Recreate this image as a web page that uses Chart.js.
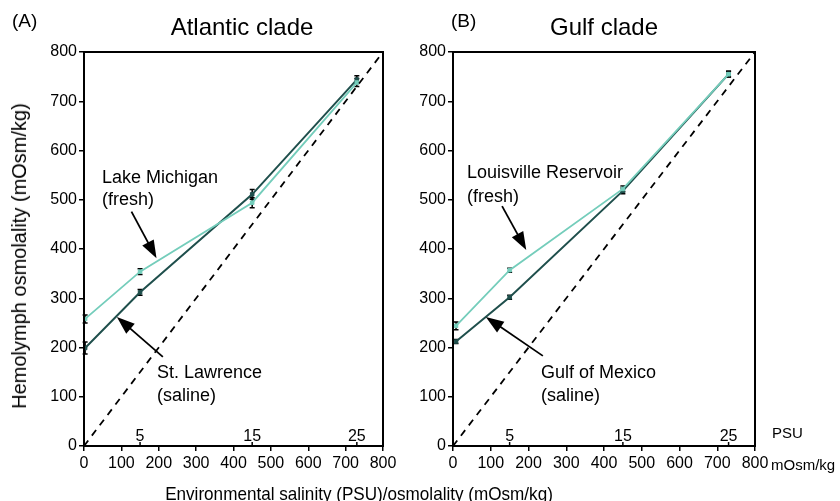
<!doctype html>
<html lang="en">
<head>
    <meta charset="UTF-8">
    <title>Hemolymph osmolality</title>
    <style>
        html, body {
            margin: 0;
            padding: 0;
            background: #fff;
        }
        body {
            width: 840px;
            height: 501px;
            position: relative;
            overflow: hidden;
            font-family: 'Liberation Sans', Arial, sans-serif;
            color: #000;
        }
        .lbl {
            position: absolute;
            white-space: nowrap;
            line-height: 1;
        }
        #chartA { position: absolute; left: 0; top: 0; }
        #chartB { position: absolute; left: 405px; top: 0; }
    </style>
</head>
<body>
    <canvas id="chartA" width="420" height="501"></canvas>
    <canvas id="chartB" width="435" height="501"></canvas>

    <div class="lbl" style="left:12px;top:11px;font-size:19px">(A)</div>
    <div class="lbl" style="left:242px;top:15px;font-size:24px;transform:translateX(-50%)">Atlantic clade</div>
    <div class="lbl" style="left:451px;top:11px;font-size:19px">(B)</div>
    <div class="lbl" style="left:604px;top:15px;font-size:24px;transform:translateX(-50%)">Gulf clade</div>
    <div class="lbl" style="left:19px;top:256px;font-size:20px;transform:translate(-50%,-50%) rotate(-90deg)">Hemolymph osmolality (mOsm/kg)</div>
    <div class="lbl" style="left:359px;top:484px;font-size:19px;transform:translateX(-50%) scaleX(0.9)">Environmental salinity (PSU)/osmolality (mOsm/kg)</div>
    <div class="lbl" style="left:772px;top:425px;font-size:15px">PSU</div>
    <div class="lbl" style="left:771px;top:457px;font-size:15px">mOsm/kg</div>

    <script src="https://cdn.jsdelivr.net/npm/chart.js@4.4.1/dist/chart.umd.min.js"></script>
    <script>
        // values (mOsm/kg)
        var atlanticSalinity = [3, 150, 450, 730];
        var atlanticFresh = [258, 354, 494, 738];
        var atlanticFreshErr = [8, 6, 10, 8];
        var atlanticSaline = [199, 312, 511, 744];
        var atlanticSalineErr = [12, 6, 10, 8];

        var gulfSalinity = [8, 150, 450, 730];
        var gulfFresh = [244, 357, 522, 755];
        var gulfFreshErr = [8, 4, 6, 6];
        var gulfSaline = [212, 302, 518, 755];
        var gulfSalineErr = [4, 4, 6, 6];

        var psuLabels = ['5', '15', '25'];
        var psuAt = [150, 450, 730];

        var light = '#74cdbb';
        var dark = '#1f4f4c';

        Chart.defaults.font.family = "'Liberation Sans', Arial, sans-serif";
        Chart.defaults.color = '#000';

        function arrow(ctx, x1, y1, x2, y2) {
            var a = Math.atan2(y2 - y1, x2 - x1);
            var len = 18, half = 6.5;
            ctx.beginPath();
            ctx.moveTo(x1, y1);
            ctx.lineTo(x2 - Math.cos(a) * len * 0.8, y2 - Math.sin(a) * len * 0.8);
            ctx.stroke();
            ctx.beginPath();
            ctx.moveTo(x2, y2);
            ctx.lineTo(x2 - Math.cos(a) * len - Math.sin(a) * half, y2 - Math.sin(a) * len + Math.cos(a) * half);
            ctx.lineTo(x2 - Math.cos(a) * len + Math.sin(a) * half, y2 - Math.sin(a) * len - Math.cos(a) * half);
            ctx.closePath();
            ctx.fill();
        }

        var extras = {
            id: 'extras',
            beforeDatasetsDraw: function (chart) {
                // error bars go under the markers
                var ctx = chart.ctx, xs = chart.scales.x, ys = chart.scales.y;
                ctx.save();
                ctx.strokeStyle = '#000';
                ctx.lineWidth = 1.5;
                chart.data.datasets.forEach(function (ds) {
                    if (!ds.err) return;
                    ds.data.forEach(function (p, i) {
                        var px = xs.getPixelForValue(p.x);
                        var y1 = ys.getPixelForValue(p.y - ds.err[i]);
                        var y2 = ys.getPixelForValue(p.y + ds.err[i]);
                        ctx.beginPath();
                        ctx.moveTo(px, y1); ctx.lineTo(px, y2);
                        ctx.moveTo(px - 2.5, y1); ctx.lineTo(px + 2.5, y1);
                        ctx.moveTo(px - 2.5, y2); ctx.lineTo(px + 2.5, y2);
                        ctx.stroke();
                    });
                });
                ctx.restore();
            },
            afterDatasetsDraw: function (chart) {
                var ctx = chart.ctx, xs = chart.scales.x, ys = chart.scales.y, a = chart.chartArea;
                ctx.save();
                // frame
                ctx.strokeStyle = '#000';
                ctx.lineWidth = 2;
                ctx.strokeRect(a.left, a.top, a.right - a.left, a.bottom - a.top);
                // PSU scale along the bottom
                ctx.fillStyle = '#000';
                ctx.font = "16px 'Liberation Sans', Arial, sans-serif";
                ctx.textAlign = 'center';
                ctx.textBaseline = 'alphabetic';
                psuAt.forEach(function (v, i) {
                    var px = xs.getPixelForValue(v);
                    ctx.beginPath();
                    ctx.moveTo(px, a.bottom); ctx.lineTo(px, a.bottom - 4);
                    ctx.lineWidth = 1.5;
                    ctx.stroke();
                    ctx.fillText(psuLabels[i], px, a.bottom - 5);
                });
                // callouts
                var notes = chart.options.plugins.extras.notes;
                ctx.font = "18px 'Liberation Sans', Arial, sans-serif";
                ctx.textAlign = 'left';
                ctx.lineWidth = 1.8;
                notes.forEach(function (n) {
                    var tx = xs.getPixelForValue(n.x);
                    ctx.fillText(n.lines[0], tx, ys.getPixelForValue(n.y[0]));
                    ctx.fillText(n.lines[1], tx, ys.getPixelForValue(n.y[1]));
                    arrow(ctx, xs.getPixelForValue(n.from[0]), ys.getPixelForValue(n.from[1]),
                        xs.getPixelForValue(n.to[0]), ys.getPixelForValue(n.to[1]));
                });
                ctx.restore();
            }
        };

        function series(xs, ys, err, color, width) {
            return {
                data: xs.map(function (x, i) { return { x: x, y: ys[i] }; }),
                err: err,
                showLine: true,
                borderColor: color,
                backgroundColor: color,
                pointBackgroundColor: color,
                pointBorderColor: color,
                borderWidth: width,
                pointStyle: 'rect',
                pointRadius: 2.5,
                pointBorderWidth: 1
            };
        }

        function panel(id, xs, fresh, freshErr, saline, salineErr, notes, yWidth, padRight) {
            return new Chart(document.getElementById(id), {
                type: 'scatter',
                data: {
                    datasets: [
                        {
                            data: [{ x: 0, y: 0 }, { x: 800, y: 800 }],
                            showLine: true,
                            borderColor: '#000',
                            borderWidth: 1.8,
                            borderDash: [7, 6],
                            pointRadius: 0
                        },
                        series(xs, fresh, freshErr, light, 1.8),
                        series(xs, saline, salineErr, dark, 2)
                    ]
                },
                options: {
                    responsive: false,
                    animation: false,
                    layout: { autoPadding: false, padding: { left: 0, top: 52, right: padRight, bottom: 25 } },
                    plugins: {
                        legend: { display: false },
                        tooltip: { enabled: false },
                        extras: { notes: notes }
                    },
                    scales: {
                        x: {
                            type: 'linear', min: 0, max: 800,
                            ticks: { stepSize: 100, font: { size: 16 }, padding: 3, maxRotation: 0 },
                            grid: { drawOnChartArea: false, tickLength: 5, color: '#000', lineWidth: 1.5 },
                            border: { color: '#000', width: 2 },
                            afterFit: function (s) { s.height = 30; s.paddingLeft = 0; s.paddingRight = 0; }
                        },
                        y: {
                            min: 0, max: 800,
                            ticks: { stepSize: 100, font: { size: 16 }, padding: 2 },
                            grid: { drawOnChartArea: false, tickLength: 5, color: '#000', lineWidth: 1.5 },
                            border: { color: '#000', width: 2 },
                            afterFit: function (s) { s.width = yWidth; s.paddingTop = 0; s.paddingBottom = 0; }
                        }
                    }
                },
                plugins: [extras]
            });
        }

        panel('chartA', atlanticSalinity, atlanticFresh, atlanticFreshErr, atlanticSaline, atlanticSalineErr, [
            { lines: ['Lake Michigan', '(fresh)'], x: 48, y: [534, 489], from: [127, 476], to: [194, 381] },
            { lines: ['St. Lawrence', '(saline)'], x: 195, y: [138, 91], from: [211, 181], to: [88, 262] }
        ], 84, 37);

        panel('chartB', gulfSalinity, gulfFresh, gulfFreshErr, gulfSaline, gulfSalineErr, [
            { lines: ['Louisville Reservoir', '(fresh)'], x: 37, y: [544, 495], from: [130, 487], to: [194, 398] },
            { lines: ['Gulf of Mexico', '(saline)'], x: 233, y: [138, 91], from: [238, 183], to: [87, 262] }
        ], 48, 85);
    </script>
</body>
</html>
